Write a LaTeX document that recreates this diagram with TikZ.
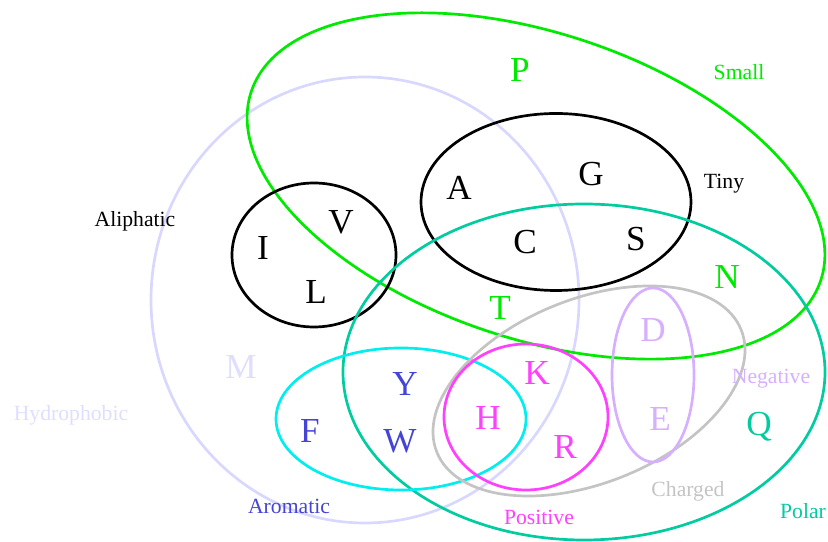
\documentclass[tikz,border=0pt]{standalone}
\usepackage{fontspec}
\setmainfont{Liberation Serif}
\usepackage{xcolor}
\usepackage{tikz}
\definecolor{hydrocol}{RGB}{216,216,255}
\definecolor{hydrotext}{RGB}{222,222,255}
\definecolor{smallcol}{RGB}{0,234,0}
\definecolor{polarcol}{RGB}{0,204,160}
\definecolor{aromcol}{RGB}{0,238,238}
\definecolor{aromtext}{RGB}{68,68,214}
\definecolor{chargecol}{RGB}{196,196,196}
\definecolor{poscol}{RGB}{255,64,255}
\definecolor{negcol}{RGB}{214,176,255}
\tikzset{
  setline/.style={line width=2.3pt},
  acid/.style={font=\fontsize{30}{30}\selectfont, inner sep=0pt},
  setname/.style={font=\fontsize{18.5}{20}\selectfont, inner sep=0pt,
    text height=1.4ex, text depth=0.3ex}
}

\begin{document}
\begin{tikzpicture}[x=0.03cm, y=0.03cm]
  \useasboundingbox (0,0) rectangle (828,542);

  % Set outlines
  \draw[setline, color=hydrocol] (365,242) ellipse (214 and 223);
  \draw[setline, color=smallcol, rotate around={-18.3:(536,356)}] (536,356) ellipse (300 and 153);
  \draw[setline, color=black] (556,340) ellipse (135 and 88.5);
  \draw[setline, color=black] (314,287) ellipse (82 and 72);
  \draw[setline, color=polarcol] (584,170) ellipse (241 and 168);
  \draw[setline, color=aromcol] (401,123) ellipse (125 and 71);
  \draw[setline, color=chargecol, rotate around={21.9:(589,151)}] (589,151) ellipse (164 and 92);
  \draw[setline, color=poscol] (526,125) ellipse (82 and 73);
  \draw[setline, color=negcol] (653,167) ellipse (41 and 87);

  % Set names
  \node[setname, color=hydrotext] (hydro) at (71,124) {Hydrophobic};
  \node[setname, color=black] (aliph) at (135,318) {Aliphatic};
  \node[setname, color=black] (tiny) at (724,356) {Tiny};
  \node[setname, color=smallcol] (small) at (739,465) {Small};
  \node[setname, color=aromtext] (arom) at (289,31) {Aromatic};
  \node[setname, color=poscol] (pos) at (539,20) {Positive};
  \node[setname, color=chargecol] (charged) at (688,48) {Charged};
  \node[setname, color=negcol] (neg) at (771,161) {Negative};
  \node[setname, color=polarcol] (polar) at (803,26) {Polar};

  % Amino acids
  \node[acid, color=smallcol] (P) at (520,472) {P};
  \node[acid] (A) at (459,354) {A};
  \node[acid] (G) at (591,368) {G};
  \node[acid] (C) at (525,300) {C};
  \node[acid] (S) at (636,303) {S};
  \node[acid] (I) at (263,294) {I};
  \node[acid] (V) at (341,320) {V};
  \node[acid] (L) at (316,250) {L};
  \node[acid, color=hydrotext] (M) at (241,175) {M};
  \node[acid, color=aromtext] (F) at (310,111) {F};
  \node[acid, color=aromtext] (Y) at (405,158) {Y};
  \node[acid, color=aromtext] (W) at (400,101) {W};
  \node[acid, color=smallcol] (T) at (500,234) {T};
  \node[acid, color=smallcol] (N) at (727,265) {N};
  \node[acid, color=poscol] (K) at (537,169) {K};
  \node[acid, color=poscol] (H) at (488,124) {H};
  \node[acid, color=poscol] (R) at (565,95) {R};
  \node[acid, color=negcol] (D) at (653,212) {D};
  \node[acid, color=negcol] (E) at (660,123) {E};
  \node[acid, color=polarcol] (Q) at (759,115) {Q};
\end{tikzpicture}
\end{document}
